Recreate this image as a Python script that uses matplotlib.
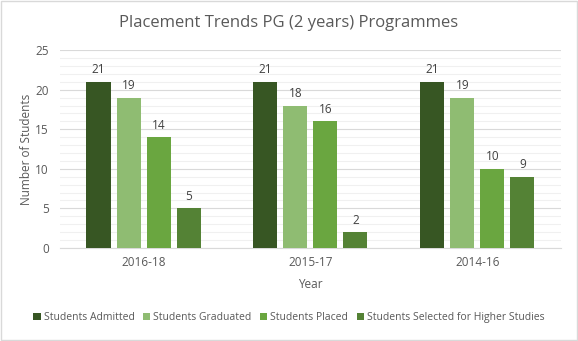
import numpy as np
import matplotlib.pyplot as plt
from matplotlib.ticker import MultipleLocator

years = ["2016-18", "2015-17", "2014-16"]
admitted = [21, 21, 21]
graduated = [19, 18, 19]
placed = [14, 16, 10]
higher = [5, 2, 9]

series = [
    ("Students Admitted", admitted, "#375623"),
    ("Students Graduated", graduated, "#8fbc72"),
    ("Students Placed", placed, "#6aa640"),
    ("Students Selected for Higher Studies", higher, "#548235"),
]

plt.rcParams["font.family"] = ["Open Sans", "DejaVu Sans"]

fig = plt.figure(figsize=(5.78, 3.41), dpi=100)
ax = fig.add_axes([0.104, 0.273, 0.866, 0.580])

x = np.arange(len(years))
w = 0.144
step = 0.18
for i, (name, vals, col) in enumerate(series):
    pos = x + (i - 1.5) * step
    bars = ax.bar(pos, vals, w, color=col, label=name, zorder=3)
    for b, v in zip(bars, vals):
        ax.text(b.get_x() + b.get_width() / 2, v + 0.7, str(v), ha="center", va="bottom",
                fontsize=8.5, color="#404040")

ax.set_xlim(-0.5, 2.5)
ax.set_ylim(0, 25)
ax.yaxis.set_major_locator(MultipleLocator(5))
ax.yaxis.set_minor_locator(MultipleLocator(1))
ax.grid(axis="y", which="major", color="#d9d9d9", lw=0.8, zorder=0)
ax.grid(axis="y", which="minor", color="#f0f0f0", lw=0.8, zorder=0)
for s in ["top", "right", "left"]:
    ax.spines[s].set_visible(False)
ax.spines["bottom"].set_color("#d9d9d9")
ax.tick_params(axis="both", which="both", length=0, labelsize=8.5, colors="#595959")
ax.tick_params(axis="x", pad=6)
ax.tick_params(axis="y", pad=8)
ax.set_xticks(x)
ax.set_xticklabels(years)
ax.set_xlabel("Year", fontsize=8.5, color="#595959", labelpad=6)
ax.set_ylabel("Number of Students", fontsize=8.5, color="#595959", labelpad=2)
fig.suptitle("Placement Trends PG (2 years) Programmes", y=0.955, fontsize=12, color="#595959")

fig.legend(loc="center", bbox_to_anchor=(0.5, 0.068), ncol=4, frameon=False, fontsize=7.5,
           handlelength=0.7, handleheight=0.7, handletextpad=0.3, columnspacing=0.8,
           labelcolor="#595959")

fig.patches.append(plt.Rectangle((0.001, 0.002), 0.997, 0.995, transform=fig.transFigure,
                                 fill=False, edgecolor="#d9d9d9", lw=1))
fig.savefig("out.png", dpi=100)
